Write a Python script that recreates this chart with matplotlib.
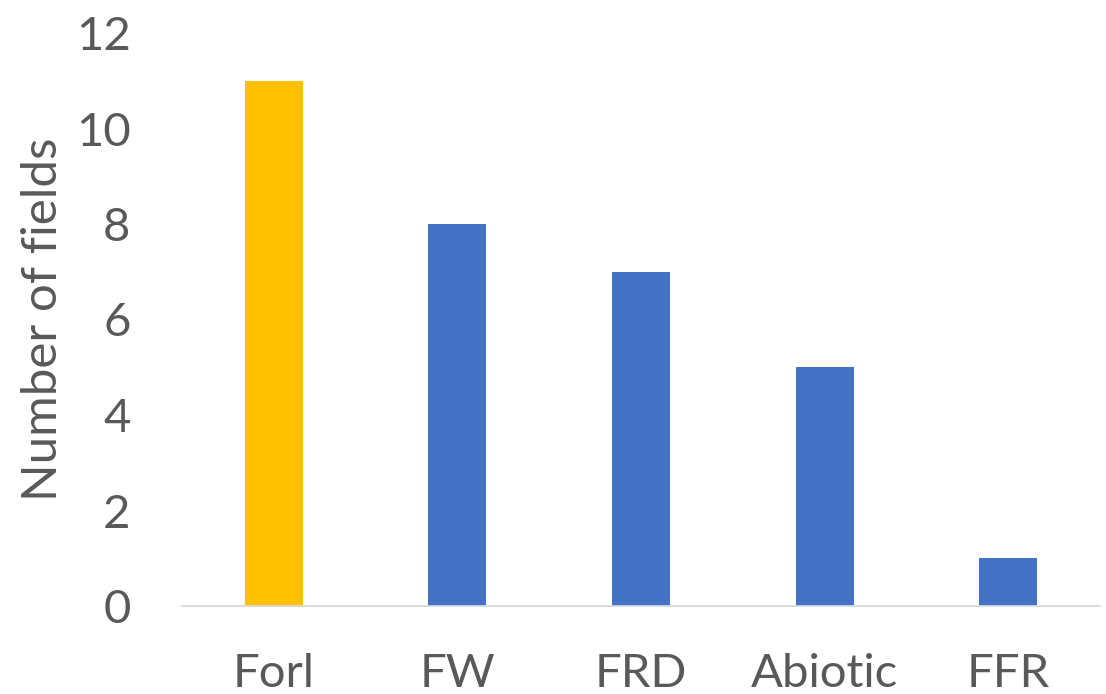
import matplotlib
matplotlib.use("Agg")
import matplotlib.pyplot as plt

categories = ["Forl", "FW", "FRD", "Abiotic", "FFR"]
counts = [11, 8, 7, 5, 1]
bar_colors = ["#FFC000", "#4472C4", "#4472C4", "#4472C4", "#4472C4"]
y_ticks = [0, 2, 4, 6, 8, 10, 12]

plt.rcParams["font.family"] = ["Lato", "DejaVu Sans"]
text_color = "#595959"
fs = 34

W, H = 1106, 694
fig = plt.figure(figsize=(W / 100, H / 100), dpi=100)
ax = fig.add_axes([182 / W, 88 / H, (1100 - 182) / W, (606 - 33) / H])

x = range(len(categories))
ax.bar(x, counts, width=0.315, color=bar_colors, zorder=2)

ax.set_xlim(-0.5, len(categories) - 0.5)
ax.set_ylim(0, 12)
ax.set_yticks(y_ticks)
ax.set_yticklabels([str(v) for v in y_ticks])
ax.set_xticks(list(x))
ax.set_xticklabels(categories)

ax.tick_params(axis="both", length=0, labelsize=fs, colors=text_color)
ax.tick_params(axis="y", pad=37)
ax.tick_params(axis="x", pad=34)

for side in ["top", "right", "left"]:
    ax.spines[side].set_visible(False)
ax.spines["bottom"].set_color("#D9D9D9")
ax.spines["bottom"].set_linewidth(1.3)

ax.set_ylabel("Number of fields", fontsize=35.5, color=text_color, labelpad=8)

fig.savefig("out.png", dpi=100)
